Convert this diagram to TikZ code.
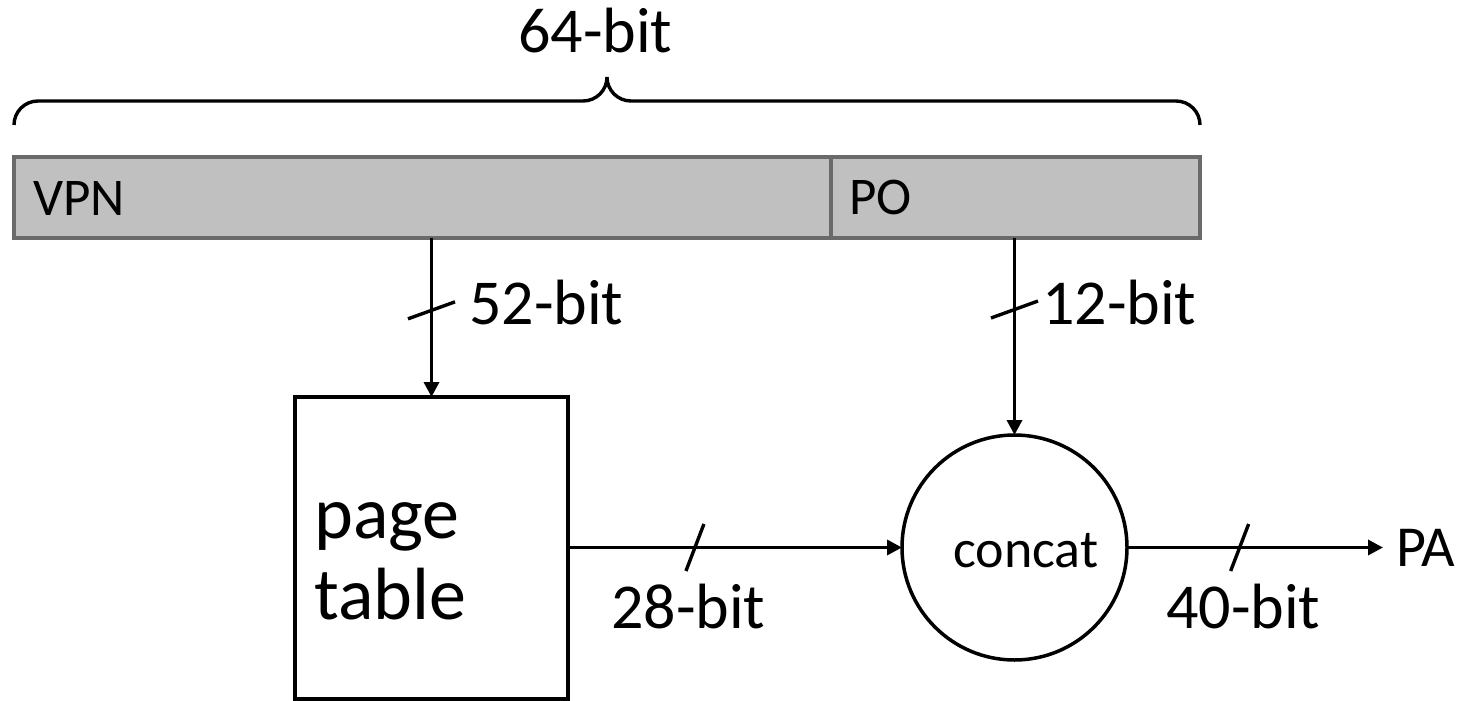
\documentclass[tikz,border=0pt]{standalone}
\usepackage{fontspec}
\setmainfont{Carlito}
\usetikzlibrary{arrows.meta}
\definecolor{barfill}{RGB}{192,192,192}
\definecolor{barline}{RGB}{106,106,106}
\begin{document}
\begin{tikzpicture}[x=1pt,y=-1pt,
  field/.style={draw=barline, fill=barfill, line width=3.4pt, inner sep=0pt, outer sep=0pt},
  blk/.style={draw=black, line width=3.5pt, inner sep=0pt, outer sep=0pt},
  arr/.style={line width=3.4pt, -{Triangle[length=15pt,width=15pt]}},
  slash/.style={line width=3.4pt},
  lbl/.style={inner sep=0pt, anchor=base west, font=\fontsize{64}{76}\selectfont},
  flbl/.style={inner sep=0pt, anchor=base west, font=\fontsize{53}{64}\selectfont}]
\useasboundingbox (0,0) rectangle (1467,701);
% brace
\draw[line width=3.4pt] (14,125) .. controls (14,111.7) and (24.7,101) .. (38,101) -- (583,101)
   .. controls (596.3,101) and (607,90.3) .. (607,77)
   .. controls (607,90.3) and (617.7,101) .. (631,101) -- (1176,101)
   .. controls (1189.3,101) and (1200,111.7) .. (1200,125);
\node[lbl] (l64) at (518,53) {64-bit};
% address bar
\node[field, minimum width=817pt, minimum height=81pt] (vpn) at (422.5,197.5) {};
\node[field, minimum width=369pt, minimum height=81pt] (po) at (1015.5,197.5) {};
\node[flbl] (tvpn) at (33,215) {VPN};
\node[flbl] (tpo) at (849,214) {PO};
% page table and concat
\node[blk, minimum width=273pt, minimum height=302pt] (pt) at (431.5,548) {};
\node[inner sep=0pt, anchor=base west, align=left, font=\fontsize{74}{81}\selectfont] (tpt) at (314,619) {page\\table};
\node[blk, circle, minimum size=225pt] (cc) at (1014.5,547.5) {};
\node[inner sep=0pt, anchor=base west, font=\fontsize{54}{64}\selectfont] (tcc) at (953,567) {concat};
\node[inner sep=0pt, outer xsep=13pt, anchor=west, font=\fontsize{58}{68}\selectfont] (pa) at (1383,547.5) {PA};
% connectors
\draw[arr] (pt.north |- vpn.south) -- (pt.north) coordinate[pos=0.455] (s1);
\draw[arr] (cc.north |- po.south) -- (cc.north) coordinate[pos=0.363] (s2);
\draw[arr] (cc.west -| pt.east) -- (cc.west) coordinate[pos=0.38] (s3);
\draw[arr] (cc.east) -- (pa.west) coordinate[pos=0.44] (s4);
% bus slashes
\draw[slash] (s1) +(-23.5,8.5) -- +(23.5,-8.5);
\draw[slash] (s2) +(-23.5,8.5) -- +(23.5,-8.5);
\draw[slash] (s3) +(-9,23.5) -- +(9,-23.5);
\draw[slash] (s4) +(-9,23.5) -- +(9,-23.5);
% width labels
\node[lbl] (l52) at (469,324) {52-bit};
\node[lbl] (l12) at (1042,324) {12-bit};
\node[lbl] (l28) at (611,628) {28-bit};
\node[lbl] (l40) at (1166,628) {40-bit};
\end{tikzpicture}
\end{document}
